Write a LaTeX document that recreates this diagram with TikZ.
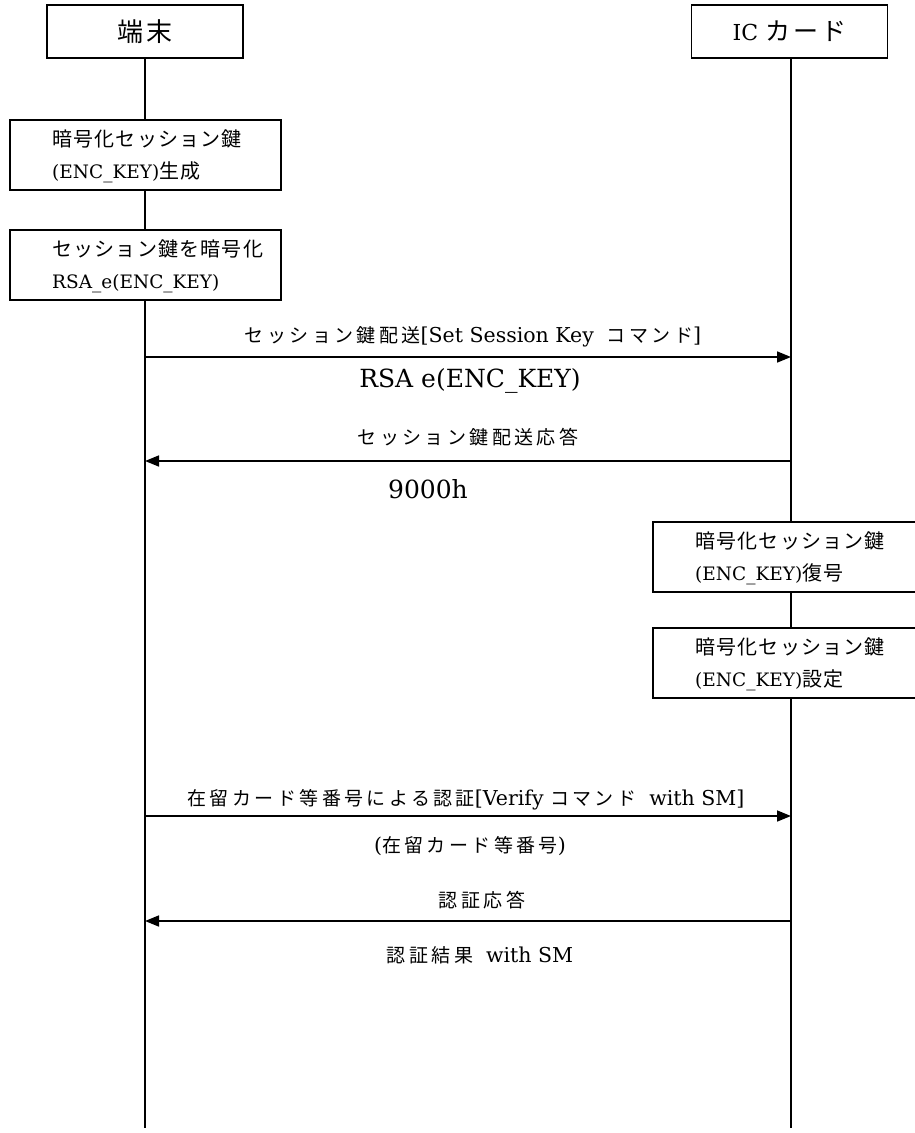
\documentclass[tikz,border=0pt]{standalone}
\usepackage{fontspec}
\setmainfont{DejaVu Serif}
\newfontfamily\jh[LetterSpace=12]{Noto Sans CJK JP}
\newfontfamily\jb[LetterSpace=6]{Noto Sans CJK JP}
\newfontfamily\jl[LetterSpace=18]{Noto Sans CJK JP}
\usetikzlibrary{arrows.meta}
\tikzset{
 actor/.style={draw, line width=1.4pt, fill=white, minimum width=196pt, minimum height=53pt, inner sep=0pt, font=\fontsize{22}{26}\selectfont},
 procbox/.style={draw, line width=1.4pt, fill=white, minimum width=271pt, minimum height=70pt, inner sep=0pt},
 proctext/.style={anchor=west, align=left, inner sep=0pt, font=\fontsize{18.5}{32}\selectfont},
 lifeline/.style={line width=1.3pt},
 msg/.style={line width=1.6pt, -{Triangle[length=14pt,width=11pt]}},
 lbl/.style={inner sep=0pt, font=\fontsize{20.5}{22}\selectfont},
 datalbl/.style={inner sep=0pt, font=\fontsize{25}{28}\selectfont},
}
\newcommand{\bj}[1]{{\fontsize{20}{32}\selectfont\jb #1}}
\newcommand{\lj}[1]{{\fontsize{19}{22}\selectfont\jl #1}}
\begin{document}
\begin{tikzpicture}[x=1pt,y=-1pt]
\useasboundingbox (0,0) rectangle (914,1133);
\fill[white] (0,0) rectangle (914,1133);
% actors
\node[actor] (t) at (145,31.5) {\fontsize{26}{26}\selectfont\jh 端末};
\node[actor] (ic) at (789.5,31.5) {IC {\fontsize{25}{26}\selectfont\jh カード}};
\coordinate (tend) at (145,1128);
\coordinate (icend) at (791,1128);
\draw[lifeline] (t.south) -- (tend);
\draw[lifeline] (ic.south -| icend) -- (icend);
% left process boxes
\node[procbox] (b1) at (145.5,155) {};
\node[proctext] (b1t) at (52,156) {\bj{暗号化セッション鍵}\\(ENC\_KEY)\bj{生成}};
\node[procbox] (b2) at (145.5,265) {};
\node[proctext] (b2t) at (52,266) {\bj{セッション鍵を暗号化}\\RSA\_e(ENC\_KEY)};
% right process boxes
\node[procbox] (b3) at (788.5,557) {};
\node[proctext] (b3t) at (695,558) {\bj{暗号化セッション鍵}\\(ENC\_KEY)\bj{復号}};
\node[procbox] (b4) at (788.5,663) {};
\node[proctext] (b4t) at (695,664) {\bj{暗号化セッション鍵}\\(ENC\_KEY)\bj{設定}};
% messages
\coordinate (m1a) at (145,357); \coordinate (m1b) at (791,357);
\draw[msg] (m1a) -- (m1b);
\node[lbl] (m1l) at (473,337) {\lj{セッション鍵配送}[Set Session Key\ \ \lj{コマンド}]};
\node[datalbl] (m1d) at (470,381) {RSA e(ENC\_KEY)};
\coordinate (m2a) at (791,461); \coordinate (m2b) at (145,461);
\draw[msg] (m2a) -- (m2b);
\node[lbl] (m2l) at (468,437) {\lj{セッション鍵配送応答}};
\node[datalbl] (m2d) at (428,489) {9000h};
\coordinate (m3a) at (145,816); \coordinate (m3b) at (791,816);
\draw[msg] (m3a) -- (m3b);
\node[lbl] (m3l) at (466,800) {\lj{在留カード等番号による認証}[Verify \lj{コマンド}\ \ with SM]};
\node[lbl] (m3d) at (470,846) {(\lj{在留カード等番号})};
\coordinate (m4a) at (791,921); \coordinate (m4b) at (145,921);
\draw[msg] (m4a) -- (m4b);
\node[lbl] (m4l) at (482,900) {\lj{認証応答}};
\node[lbl] (m4d) at (480,955) {\lj{認証結果}\ \ with SM};
\end{tikzpicture}
\end{document}
